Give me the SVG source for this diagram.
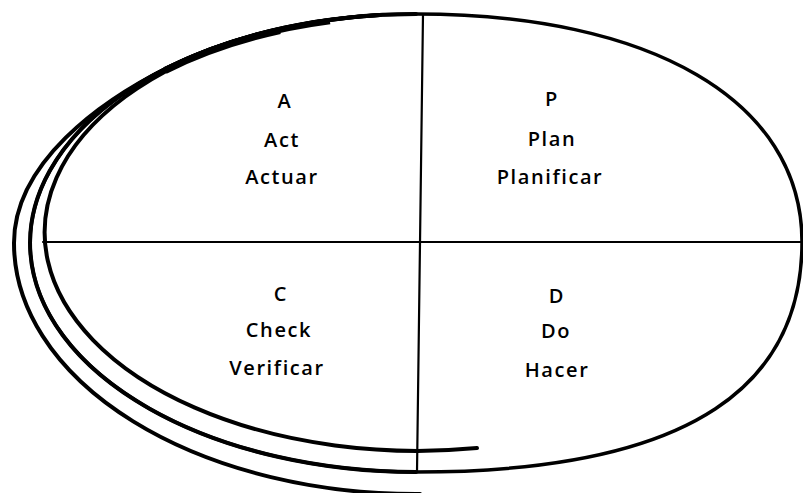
<svg xmlns="http://www.w3.org/2000/svg" width="803" height="493" viewBox="0 0 803 493">
<style>
.ln{fill:none;stroke:#000;stroke-linecap:round}
.s{stroke-width:4}
.band{fill:none;stroke:#000;stroke-linecap:butt}
.t{font-family:"Open Sans","Noto Sans",sans-serif;font-size:20px;font-weight:600;text-anchor:middle;fill:#000;letter-spacing:1.6px}
</style>
<rect width="803" height="493" fill="#fff"/>
<g id="connectors">
<path id="main-ellipse" class="ln" stroke-width="3.5" d="M416,14 C650,14 802,100 802,242 C802,380 700,472 416,472 A386,229 0 0 1 416,14 Z"/>
<path id="main-left" class="ln s" d="M380,15 A386,229 0 0 0 416,472"/>
<path id="inner-strand" class="ln s" d="M380,15 A373,218.5 0 1 0 477,448.1"/>
<path id="outer-strand" class="ln s" d="M416,14 A386,229 0 0 0 170,66.5 C100,101 14,163 14,243 A402,251 0 0 0 420,494"/>
<path id="top-band" class="band" stroke-width="5" d="M330,21.7 A386,229 0 0 0 145,81"/>
<path id="top-band-core" class="band" stroke-width="7" d="M280,30.5 A386,229 0 0 0 165,70.5"/>
<line class="ln" x1="43" y1="242" x2="803" y2="242" stroke-width="2.2"/>
<line class="ln" x1="423" y1="14" x2="417" y2="472" stroke-width="2.2"/>
</g>
<g id="node-A">
<text class="t" x="285" y="108">A</text>
<text class="t" x="282" y="147">Act</text>
<text class="t" x="282" y="184">Actuar</text>
</g>
<g id="node-P">
<text class="t" x="552" y="106">P</text>
<text class="t" x="552" y="146">Plan</text>
<text class="t" x="550" y="184">Planificar</text>
</g>
<g id="node-C">
<text class="t" x="281" y="301">C</text>
<text class="t" x="279" y="337">Check</text>
<text class="t" x="277" y="375">Verificar</text>
</g>
<g id="node-D">
<text class="t" x="557" y="303">D</text>
<text class="t" x="556" y="338">Do</text>
<text class="t" x="557" y="377">Hacer</text>
</g>
</svg>
